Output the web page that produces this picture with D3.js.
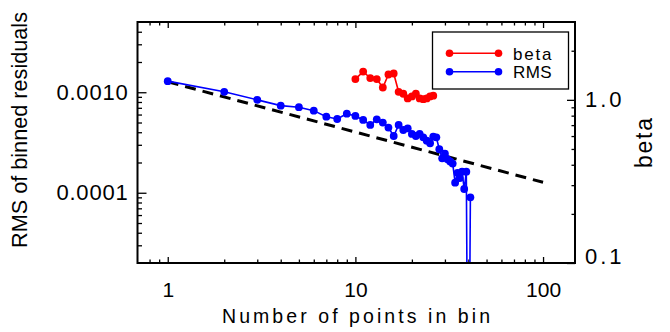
<!DOCTYPE html>
<html><head><meta charset="utf-8">
<script src="https://cdn.jsdelivr.net/npm/d3@7"></script>
<style>body{margin:0;background:#fff}svg{display:block}</style>
</head><body><svg id="c" width="670" height="332"></svg>
<script>
// ---- data ----
const binSizes = [1,2,3,4,5,6,7,8,9,10,11,12,13,14,15,16,17,18,19,20,21,22,23,24,25,26,27,28,29,30,31,32,33,34,35,36,37,38,39,40,41];
const rmsValues = [0.00129,0.00101,0.00084,0.000736,0.00071,0.000656,0.000571,0.000542,0.000612,0.000581,
  0.00053,0.000473,0.000538,0.000499,0.000445,0.000367,0.000473,0.000421,0.000438,0.000385,
  0.000367,0.000385,0.000356,0.00033,0.000311,0.000361,0.000356,0.000271,0.00022,0.000245,
  0.000215,0.000205,0.000195,0.000126,0.000158,0.00014,0.000162,0.000109,0.000162,0.0000001,0.00009];
const betaBinSizes = [10,11,12,13,14,15,16,17,18,19,20,21,22,23,24,25,26];
const betaValues = [1.34,1.49,1.36,1.34,1.19,1.43,1.45,1.12,1.09,1.02,1.05,1.09,1.02,1.01,1.02,1.05,1.06];
const refBinSizes = [1,100];
const refValues = [0.00127,0.000127];
const seriesNames = ["beta","RMS"];
const seriesColors = ["#ff0000","#0000ff"];
const xMajorTicks = [1,10,100];
const xTickLabels = ["1","10","100"];
const xMinorTicks = [0.8,0.9,2,3,4,5,6,7,8,9,20,30,40,50,60,70,80,90];
const yMajorTicks = [0.0001,0.001];
const yTickLabels = ["0.0001","0.0010"];
const yMinorTicks = [0.00003,0.00004,0.00005,0.00006,0.00007,0.00008,0.00009,0.0002,0.0003,0.0004,0.0005,0.0006,0.0007,0.0008,0.0009,0.002,0.003,0.004];
const betaMajorTicks = [0.1,1];
const betaTickLabels = ["0.1","1.0"];
const betaMinorTicks = [0.2,0.3,0.4,0.5,0.6,0.7,0.8,0.9,2];

// ---- layout ----
const L = 137.5, R = 575, T = 22, B = 263;
const FONT = "'Liberation Sans', Arial, Helvetica, sans-serif";
const svg = d3.select("#c");

const x = d3.scaleLog().domain([0.69,148]).range([L,R]);
const y = d3.scaleLog().domain([2e-5,5e-3]).range([B,T]);
const yb = d3.scaleLog().domain([0.1,3]).range([B,T]);

function styleAxis(g){
  g.select(".domain").remove();
  g.selectAll(".tick line").attr("stroke","#000").attr("stroke-width",1.3);
  g.attr("font-family",FONT);
}

// bottom axis (ticks inward)
svg.append("g").attr("transform",`translate(0,${B})`)
  .call(d3.axisBottom(x).tickValues(xMinorTicks).tickSize(-3.5).tickFormat(""))
  .call(styleAxis);
const xb = svg.append("g").attr("transform",`translate(0,${B})`)
  .call(d3.axisBottom(x).tickValues(xMajorTicks).tickSize(-6).tickPadding(19)
    .tickFormat((d,i)=>xTickLabels[i]))
  .call(styleAxis);
xb.selectAll("text").attr("font-size",21).attr("fill","#000");

// top axis
svg.append("g").attr("transform",`translate(0,${T})`)
  .call(d3.axisTop(x).tickValues(xMinorTicks).tickSize(-3.5).tickFormat(""))
  .call(styleAxis);
svg.append("g").attr("transform",`translate(0,${T})`)
  .call(d3.axisTop(x).tickValues(xMajorTicks).tickSize(-6).tickFormat(""))
  .call(styleAxis);

// left axis
svg.append("g").attr("transform",`translate(${L},0)`)
  .call(d3.axisLeft(y).tickValues(yMinorTicks).tickSize(-4.5).tickFormat(""))
  .call(styleAxis);
const yl = svg.append("g").attr("transform",`translate(${L},0)`)
  .call(d3.axisLeft(y).tickValues(yMajorTicks).tickSize(-9).tickPadding(9)
    .tickFormat((d,i)=>yTickLabels[i]))
  .call(styleAxis);
yl.selectAll("text").attr("font-size",22).attr("fill","#000").attr("letter-spacing",0.8);

// right axis (beta)
svg.append("g").attr("transform",`translate(${R},0)`)
  .call(d3.axisRight(yb).tickValues(betaMinorTicks).tickSize(-3.5).tickFormat(""))
  .call(styleAxis);
const yr = svg.append("g").attr("transform",`translate(${R},0)`)
  .call(d3.axisRight(yb).tickValues(betaMajorTicks).tickSize(-8).tickPadding(10)
    .tickFormat((d,i)=>betaTickLabels[i]))
  .call(styleAxis);
yr.selectAll("text").attr("font-size",22).attr("fill","#000").attr("letter-spacing",3)
  .attr("dy",d=> d===yb.domain()[0] ? "0em" : "0.32em");

// clip
svg.append("clipPath").attr("id","plotclip").append("rect")
  .attr("x",L).attr("y",T).attr("width",R-L).attr("height",B-T);
const plot = svg.append("g").attr("clip-path","url(#plotclip)");

// reference 1/sqrt(N) line
plot.append("path")
  .datum(refBinSizes.map((n,i)=>[n,refValues[i]]))
  .attr("d",d3.line().x(d=>x(d[0])).y(d=>y(d[1])))
  .attr("fill","none").attr("stroke","#000").attr("stroke-width",3)
  .attr("stroke-dasharray","11,7");

// RMS series
const rmsData = binSizes.map((n,i)=>[n,rmsValues[i]]);
plot.append("path").datum(rmsData)
  .attr("d",d3.line().x(d=>x(d[0])).y(d=>y(d[1])))
  .attr("fill","none").attr("stroke",seriesColors[1]).attr("stroke-width",1.6);
plot.selectAll("circle.rms").data(rmsData).join("circle").attr("class","rms")
  .attr("cx",d=>x(d[0])).attr("cy",d=>y(d[1])).attr("r",3.9).attr("fill",seriesColors[1]);

// beta series
const betaData = betaBinSizes.map((n,i)=>[n,betaValues[i]]);
plot.append("path").datum(betaData)
  .attr("d",d3.line().x(d=>x(d[0])).y(d=>yb(d[1])))
  .attr("fill","none").attr("stroke",seriesColors[0]).attr("stroke-width",1.6);
plot.selectAll("circle.beta").data(betaData).join("circle").attr("class","beta")
  .attr("cx",d=>x(d[0])).attr("cy",d=>yb(d[1])).attr("r",3.9).attr("fill",seriesColors[0]);

// frame
svg.append("rect").attr("x",L).attr("y",T).attr("width",R-L).attr("height",B-T)
  .attr("fill","none").attr("stroke","#000").attr("stroke-width",2);

// legend
const lg = svg.append("g");
lg.append("rect").attr("x",432.5).attr("y",32).attr("width",136).attr("height",57)
  .attr("fill","#fff").attr("stroke","#000").attr("stroke-width",1.3);
const rowsY = [53.3,71.7];
seriesNames.forEach((name,i)=>{
  lg.append("line").attr("x1",449.5).attr("x2",498.5).attr("y1",rowsY[i]).attr("y2",rowsY[i])
    .attr("stroke",seriesColors[i]).attr("stroke-width",1.6);
  [449.5,498.5].forEach(cx=>lg.append("circle").attr("cx",cx).attr("cy",rowsY[i]).attr("r",3.8).attr("fill",seriesColors[i]));
  lg.append("text").attr("x",513).attr("y",rowsY[i]+6.5).attr("font-family",FONT).attr("font-size",17)
    .attr("textLength",38.5).attr("lengthAdjust","spacing").attr("fill","#000").text(name);
});

// axis titles
svg.append("text").attr("x",356).attr("y",323).attr("text-anchor","middle")
  .attr("font-family",FONT).attr("font-size",19.5).attr("textLength",268).attr("lengthAdjust","spacing")
  .attr("fill","#000").text("Number of points in bin");
svg.append("text").attr("transform","translate(27,130) rotate(-90)").attr("text-anchor","middle")
  .attr("font-family",FONT).attr("font-size",22.5).attr("textLength",236).attr("lengthAdjust","spacingAndGlyphs")
  .attr("fill","#000").text("RMS of binned residuals");
svg.append("text").attr("transform","translate(651.5,143) rotate(-90)").attr("text-anchor","middle")
  .attr("font-family",FONT).attr("font-size",23).attr("textLength",50).attr("lengthAdjust","spacing")
  .attr("fill","#000").text("beta");
</script></body></html>
